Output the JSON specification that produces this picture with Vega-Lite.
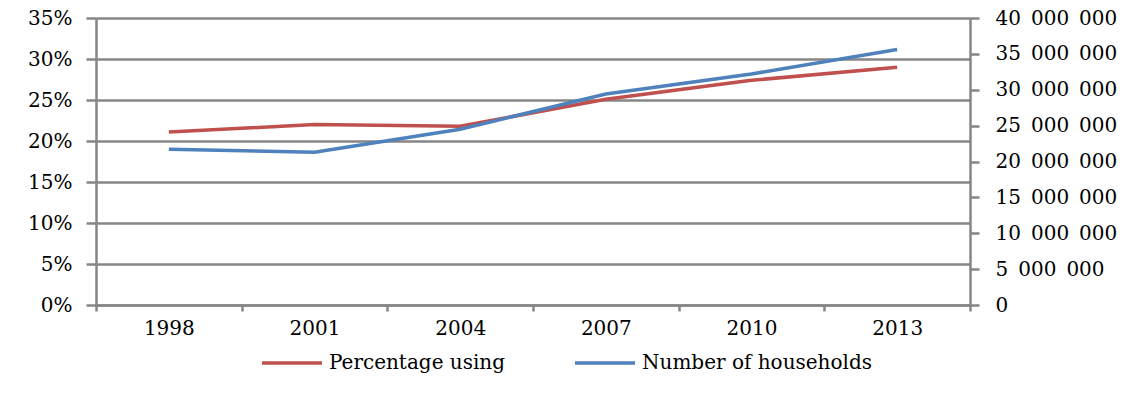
{
  "$schema": "https://vega.github.io/schema/vega-lite/v6.json",
  "width": 874,
  "height": 287,
  "autosize": {"type": "none"},
  "padding": {"left": 96, "top": 18, "right": 176, "bottom": 88},
  "background": "white",
  "config": {
    "locale": {"number": {"decimal": ".", "thousands": "\u2002", "grouping": [3], "currency": ["", ""]}},
    "view": {"stroke": null},
    "font": "DejaVu Serif",
    "axis": {
      "labelFont": "DejaVu Serif",
      "labelFontSize": 20,
      "labelColor": "#000000",
      "domainColor": "#868686",
      "domainWidth": 2.5,
      "tickColor": "#868686",
      "tickWidth": 2.5,
      "gridColor": "#868686",
      "gridWidth": 2.5,
      "gridOpacity": 1,
      "title": null
    },
    "legend": {
      "labelFont": "DejaVu Serif",
      "labelFontSize": 20,
      "labelColor": "#000000",
      "labelLimit": 0
    }
  },
  "data": {
    "values": [
      {"year": "1998", "pct": 0.211, "households": 21700000},
      {"year": "2001", "pct": 0.220, "households": 21300000},
      {"year": "2004", "pct": 0.218, "households": 24500000},
      {"year": "2007", "pct": 0.251, "households": 29400000},
      {"year": "2010", "pct": 0.274, "households": 32200000},
      {"year": "2013", "pct": 0.290, "households": 35600000}
    ]
  },
  "encoding": {
    "x": {
      "field": "year",
      "type": "ordinal",
      "scale": {"type": "band", "paddingInner": 0, "paddingOuter": 0},
      "axis": {
        "labelAngle": 0,
        "tickBand": "extent",
        "tickSize": 6,
        "labelPadding": 7,
        "grid": false
      }
    }
  },
  "layer": [
    {
      "mark": {"type": "line", "strokeWidth": 3.5},
      "encoding": {
        "y": {
          "field": "pct",
          "type": "quantitative",
          "scale": {"domain": [0, 0.35], "nice": false},
          "axis": {
            "orient": "left",
            "values": [0, 0.05, 0.1, 0.15, 0.2, 0.25, 0.3, 0.35],
            "format": ".0%",
            "grid": true,
            "tickSize": 10,
            "labelPadding": 14
          }
        },
        "color": {
          "datum": "Percentage using",
          "type": "nominal",
          "scale": {"domain": ["Percentage using", "Number of households"], "range": ["#C0504D", "#4F81BD"]},
          "legend": {
            "orient": "none",
            "legendX": 164,
            "legendY": 313,
            "direction": "horizontal",
            "title": null,
            "symbolType": "stroke",
            "symbolSize": 3600,
            "symbolStrokeWidth": 3.5,
            "labelOffset": 5,
            "columnPadding": 62
          }
        }
      }
    },
    {
      "mark": {"type": "line", "strokeWidth": 3.5},
      "encoding": {
        "y": {
          "field": "households",
          "type": "quantitative",
          "scale": {"domain": [0, 40000000], "nice": false},
          "axis": {
            "orient": "right",
            "values": [0, 5000000, 10000000, 15000000, 20000000, 25000000, 30000000, 35000000, 40000000],
            "format": ",d",
            "grid": false,
            "tickSize": 9,
            "labelPadding": 16
          }
        },
        "color": {"datum": "Number of households", "type": "nominal"}
      }
    }
  ],
  "resolve": {"scale": {"y": "independent"}}
}
